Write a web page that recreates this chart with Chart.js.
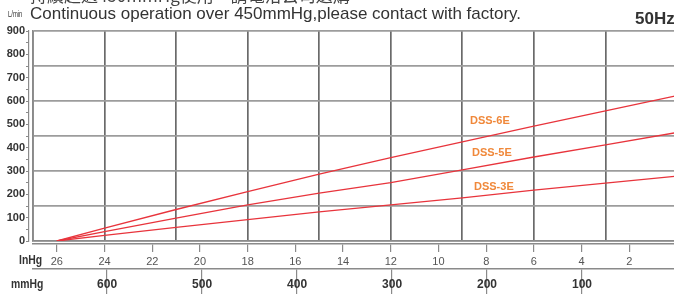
<!DOCTYPE html>
<html>
<head>
<meta charset="utf-8">
<script src="https://cdn.jsdelivr.net/npm/chart.js@4.4.0/dist/chart.umd.js"></script>
<style>
  html, body { margin: 0; padding: 0; background: #fff; }
  #wrap { position: relative; width: 674px; height: 294px; overflow: hidden; background: #fff; }
  #chart { position: absolute; left: 0; top: 0; }
  .t { position: absolute; white-space: nowrap; line-height: 1; font-family: 'Liberation Sans', Arial, sans-serif; }
  .narrow { transform: scaleX(0.8); transform-origin: left top; font-weight: bold; }
  .series { font-weight: bold; font-size: 11px; color: #f0883a; }
</style>
</head>
<body>
<div id="wrap">
  <canvas id="chart" width="680" height="294"></canvas>
  <div class="t" style="left:30px;top:-14px;font-family:'Noto Sans CJK TC','Noto Sans CJK SC',sans-serif;font-size:17px;color:#444">持續超過450mmHg使用，請電洽公司選購</div>
  <div class="t" style="left:30px;top:5px;font-size:17px;color:#333">Continuous operation over 450mmHg,please contact with factory.</div>
  <div class="t" style="left:8px;top:10px;font-size:9px;color:#333;transform:scaleX(0.65);transform-origin:left top">L/min</div>
  <div class="t" style="left:635px;top:10px;font-weight:bold;font-size:17px;color:#333">50Hz</div>
  <div class="t narrow" style="left:19px;top:253px;font-size:13px;color:#333">InHg</div>
  <div class="t narrow" style="left:11px;top:277px;font-size:13px;color:#333">mmHg</div>
  <div class="t series" style="left:470px;top:115px">DSS-6E</div>
  <div class="t series" style="left:472px;top:147px">DSS-5E</div>
  <div class="t series" style="left:474px;top:181px">DSS-3E</div>
</div>
<script>
// vacuum level (inHg) and flow (L/min)
const vacuumInHg = [26, 24, 21, 18, 15, 12, 9, 6, 3, 0]
const flowDss6e = [0, 55, 135, 212, 287, 357, 425, 492, 558, 623]
const flowDss5e = [0, 40, 98, 155, 205, 250, 305, 360, 412, 465]
const flowDss3e = [0, 24, 58, 92, 125, 155, 185, 218, 248, 278]

const seriesNames = ['DSS-6E', 'DSS-5E', 'DSS-3E']
const seriesValues = [flowDss6e, flowDss5e, flowDss3e]

const FONT = "'Liberation Sans', Arial, sans-serif"
const AXIS = '#8a8a8a'

const fixWidth = w => scale => { scale.width = w }
const fixHeight = h => scale => { scale.height = h }

new Chart(document.getElementById('chart'), {
  type: 'line',
  data: {
    datasets: seriesValues.map((vals, i) => ({
      label: seriesNames[i],
      data: vacuumInHg.map((v, j) => ({ x: v, y: vals[j] })),
      borderColor: '#e8343c',
      borderWidth: 1.3,
      pointRadius: 0,
      tension: 0,
      xAxisID: 'x',
      yAxisID: 'y'
    }))
  },
  options: {
    responsive: false,
    animation: false,
    devicePixelRatio: 1,
    layout: { padding: { top: 31, left: 0, right: 3, bottom: 0 } },
    plugins: { legend: { display: false }, tooltip: { enabled: false } },
    scales: {
      // plot grid, vertical lines every 3 inHg
      gx: {
        type: 'linear', position: 'bottom', reverse: true, min: 0, max: 27, weight: 0,
        ticks: { display: false, stepSize: 3 },
        grid: { color: '#6a6a6a', lineWidth: 1.7, drawTicks: false },
        border: { display: true, color: '#8a8a8a', width: 1.6 },
        afterFit: fixHeight(3)
      },
      // InHg axis
      x: {
        type: 'linear', position: 'bottom', reverse: true, min: 0, max: 27, weight: 1,
        ticks: {
          stepSize: 2, includeBounds: false, padding: 3, maxRotation: 0, autoSkip: false,
          color: '#555', font: { family: FONT, size: 11 },
          callback: v => (v > 0 && v < 27) ? String(v) : null
        },
        grid: { drawOnChartArea: false, drawTicks: true, tickLength: 8, color: AXIS, lineWidth: 1.2 },
        border: { display: true, color: AXIS, width: 1.6 },
        afterFit: fixHeight(25)
      },
      // mmHg axis
      xm: {
        type: 'linear', position: 'bottom', reverse: true, min: 0, max: 678, weight: 2,
        ticks: {
          stepSize: 100, includeBounds: false, padding: -17, maxRotation: 0, autoSkip: false,
          color: '#333', font: { family: FONT, size: 12, weight: 'bold' },
          callback: v => (v > 0) ? String(v) : null
        },
        grid: { drawOnChartArea: false, drawTicks: true, tickLength: 25, color: AXIS, lineWidth: 1.2 },
        border: { display: true, color: AXIS, width: 1.6 },
        afterFit: fixHeight(25)
      },
      // plot grid, horizontal lines every 150 L/min
      gy: {
        type: 'linear', position: 'left', min: 0, max: 900, weight: 0,
        ticks: { display: false, stepSize: 150 },
        grid: { color: '#9c9c9c', lineWidth: 1.8, drawTicks: false },
        border: { display: true, color: '#8a8a8a', width: 1.6 },
        afterFit: fixWidth(4)
      },
      // L/min axis
      y: {
        type: 'linear', position: 'left', min: 0, max: 900, weight: 1,
        ticks: {
          stepSize: 50, padding: 1, autoSkip: false,
          color: '#333', font: { family: FONT, size: 11, weight: 'bold' },
          callback: v => (v % 100 === 0) ? String(v) : ''
        },
        grid: { drawOnChartArea: false, drawTicks: true, tickLength: 3, color: AXIS, lineWidth: 1 },
        border: { display: true, color: AXIS, width: 1.2 },
        afterFit: fixWidth(29)
      }
    }
  }
})
</script>
</body>
</html>
